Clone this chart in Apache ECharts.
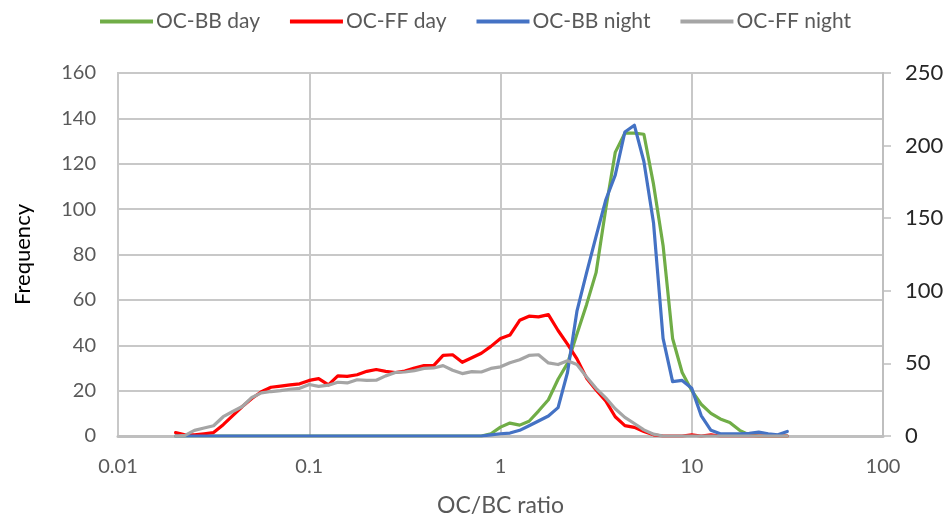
<!DOCTYPE html>
<html>
<head>
<meta charset="utf-8">
<script src="https://cdn.jsdelivr.net/npm/echarts@6/dist/echarts.min.js"></script>
<style>
  html, body { margin: 0; padding: 0; background: #fff; }
  #chart { width: 951px; height: 522px; }
</style>
</head>
<body>
<div id="chart"></div>
<script>
// OC/BC ratio bin centres (log spaced)
const ratioBins = [
  0.0200, 0.0224, 0.0251, 0.0282, 0.0316, 0.0355, 0.0398, 0.0447, 0.0501, 0.0562,
  0.0631, 0.0708, 0.0794, 0.0891, 0.100, 0.112, 0.126, 0.141, 0.158, 0.178,
  0.200, 0.224, 0.251, 0.282, 0.316, 0.355, 0.398, 0.447, 0.501, 0.562,
  0.631, 0.708, 0.794, 0.891, 1.00, 1.12, 1.26, 1.41, 1.58, 1.78,
  2.00, 2.24, 2.51, 2.82, 3.16, 3.55, 3.98, 4.47, 5.01, 5.62,
  6.31, 7.08, 7.94, 8.91, 10.0, 11.2, 12.6, 14.1, 15.8, 17.8,
  20.0, 22.4, 25.1, 28.2, 31.6
];

const ocBbDay = [
  0, 0, 0, 0, 0, 0, 0, 0, 0, 0,
  0, 0, 0, 0, 0, 0, 0, 0, 0, 0,
  0, 0, 0, 0, 0, 0, 0, 0, 0, 0,
  0, 0, 0, 1, 3.9, 5.7, 4.8, 6.5, 11, 16,
  25, 32, 45, 58, 72, 100, 125, 133.5, 133.5, 133,
  111, 84, 43, 28, 20, 14, 10, 7.5, 6, 2.5,
  0.5, 0, 0, 0, 0
];

const ocFfDay = [
  1.5, 0.5, 0.5, 1, 1.5, 5, 9, 13, 16.5, 19.5,
  21.5, 22, 22.5, 23, 24.5, 25.3, 22.5, 26.5, 26.3, 27,
  28.5, 29.3, 28.5, 28, 28.6, 30, 31, 31, 35.5, 35.8,
  32.5, 34.5, 36.5, 39.5, 43, 44.5, 51, 52.8, 52.5, 53.5,
  46.5, 40.5, 34, 25.5, 20.3, 15.5, 8.5, 4.6, 3.8, 2,
  0.5, 0, 0, 0, 0.5, 0, 0.5, 0, 0, 0,
  0, 0, 0, 0, 0
];

const ocBbNight = [
  0, 0, 0, 0, 0, 0, 0, 0, 0, 0,
  0, 0, 0, 0, 0, 0, 0, 0, 0, 0,
  0, 0, 0, 0, 0, 0, 0, 0, 0, 0,
  0, 0, 0, 0.5, 1, 1.3, 2.5, 4.5, 6.6, 8.8,
  12.5, 28, 55, 72, 88, 104, 115, 134, 137, 121,
  94, 43, 24, 24.5, 21, 9, 2.5, 1, 1, 1,
  1.2, 1.7, 1, 0.5, 2
];

const ocFfNight = [
  0, 0.3, 2.5, 3.5, 4.5, 8.5, 10.8, 13, 17, 19,
  19.6, 20, 20.6, 21, 22.7, 21.9, 22.4, 23.7, 23.4, 24.8,
  24.5, 24.6, 26.5, 28, 28.2, 28.8, 29.8, 30, 31, 29,
  27.5, 28.4, 28.2, 29.8, 30.5, 32.3, 33.6, 35.5, 35.8, 32.2,
  31.5, 33.2, 31.5, 26, 21, 16.8, 12, 8.2, 5.5, 2.7,
  0.8, 0, 0, 0, 0, 0, 0, 0, 0, 0,
  0, 0, 0, 0, 0
];

const xTickLabels = ['0.01', '0.1', '1', '10', '100'];
const leftTicks = [0, 20, 40, 60, 80, 100, 120, 140, 160];
const rightTicks = [0, 50, 100, 150, 200, 250];

const font = 'Lato, "Open Sans", sans-serif';
const textColor = '#595959';
const gridColor = '#C8C8C8';

function pairs(vals) {
  return ratioBins.map((x, i) => [x, vals[i]]);
}

function lineSeries(name, vals, color) {
  return {
    name: name,
    type: 'line',
    data: pairs(vals),
    showSymbol: false,
    symbol: 'none',
    smooth: false,
    yAxisIndex: 0,
    lineStyle: { color: color, width: 3.2, cap: 'round', join: 'round' },
    itemStyle: { color: color },
    emphasis: { disabled: true }
  };
}

const chart = echarts.init(document.getElementById('chart'));
chart.setOption({
  animation: false,
  backgroundColor: '#ffffff',
  legend: {
    top: 6,
    left: 'center',
    icon: 'rect',
    itemWidth: 53,
    itemHeight: 4,
    itemGap: 30,
    textStyle: { fontFamily: font, fontSize: 21, color: textColor, padding: [0, 0, 0, -2] },
    data: ['OC-BB day', 'OC-FF day', 'OC-BB night', 'OC-FF night']
  },
  grid: { left: 118, right: 68, top: 73, bottom: 83, containLabel: false,
          show: true, borderColor: gridColor, borderWidth: 2 },
  xAxis: {
    type: 'log',
    logBase: 10,
    min: 0.01,
    max: 100,
    name: 'OC/BC ratio',
    nameLocation: 'middle',
    nameGap: 58,
    nameTextStyle: { fontFamily: font, fontSize: 23, color: textColor },
    axisLine: { onZero: false, lineStyle: { color: '#BFBFBF', width: 3 } },
    axisTick: { show: false },
    axisLabel: {
      margin: 21,
      fontFamily: font, fontSize: 20, color: textColor,
      formatter: function (v) {
        const idx = Math.round(Math.log10(v)) + 2;
        return xTickLabels[idx] !== undefined ? xTickLabels[idx] : '';
      }
    },
    splitLine: { show: true, lineStyle: { color: gridColor, width: 2 } }
  },
  yAxis: [
    {
      type: 'value',
      min: leftTicks[0],
      max: leftTicks[leftTicks.length - 1],
      interval: 20,
      name: 'Frequency',
      nameLocation: 'middle',
      nameGap: 84,
      nameRotate: 90,
      nameTextStyle: { fontFamily: font, fontSize: 22, color: '#000000' },
      axisLine: { show: false },
      axisTick: { show: false },
      axisLabel: { margin: 22, fontFamily: font, fontSize: 20, color: textColor },
      splitLine: { show: true, lineStyle: { color: gridColor, width: 2 } }
    },
    {
      type: 'value',
      position: 'right',
      min: rightTicks[0],
      max: rightTicks[rightTicks.length - 1],
      interval: 50,
      axisLine: { show: true, lineStyle: { color: '#BFBFBF', width: 2 } },
      axisTick: { show: true, length: 8, lineStyle: { color: '#BFBFBF', width: 1.5 } },
      axisLabel: { margin: 22, fontFamily: font, fontSize: 22, color: '#262626' },
      splitLine: { show: false }
    }
  ],
  series: [
    lineSeries('OC-BB day', ocBbDay, '#70AD47'),
    lineSeries('OC-FF day', ocFfDay, '#FF0000'),
    lineSeries('OC-BB night', ocBbNight, '#4472C4'),
    lineSeries('OC-FF night', ocFfNight, '#A5A5A5')
  ]
});
</script>
</body>
</html>
